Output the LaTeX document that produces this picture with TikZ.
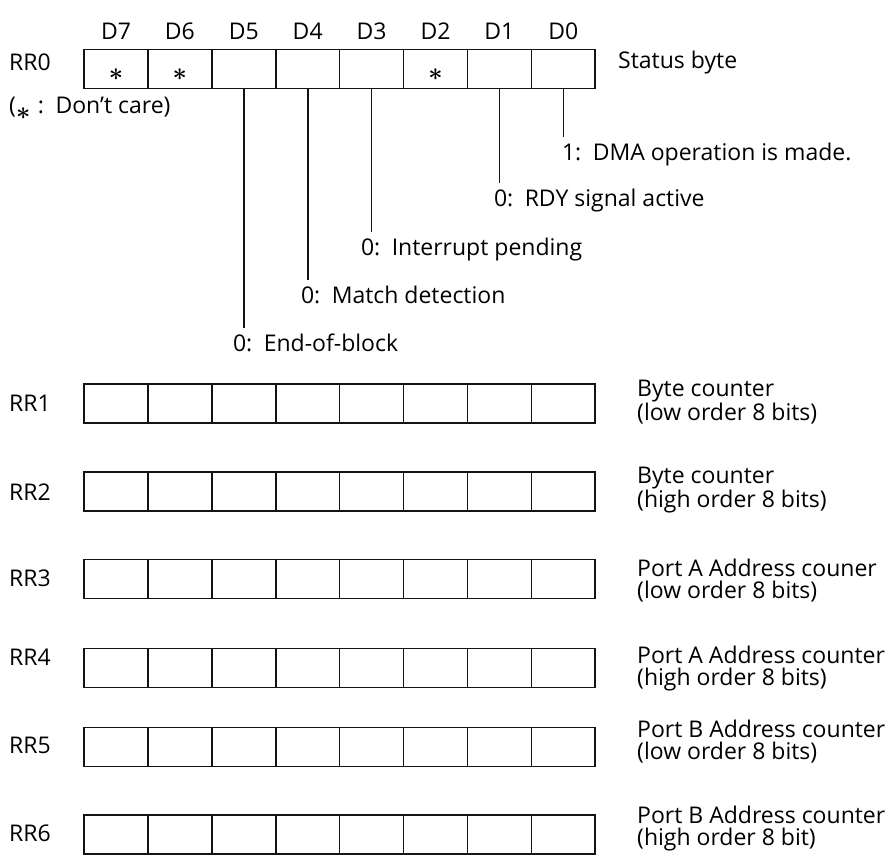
\documentclass[tikz,border=0pt]{standalone}
\usepackage{fontspec}
\setmainfont{Open Sans}
\usetikzlibrary{positioning}
\definecolor{inkblack}{RGB}{20,20,20}

\begin{document}
\begin{tikzpicture}[x=1pt, y=-1pt,
  cell/.style={rectangle, draw=inkblack, minimum width=63.9pt, minimum height=39pt, inner sep=0pt, outer sep=0pt, line width=1.6pt},
  bitname/.style={inner sep=0pt, font=\fontsize{23}{22}\selectfont},
  reg/.style={anchor=west, inner sep=0pt, font=\fontsize{23}{22}\selectfont},
  txt/.style={anchor=west, inner sep=0pt, align=left, font=\fontsize{23}{22}\selectfont},
  note/.style={anchor=north west, inner sep=0pt, outer sep=6pt, font=\fontsize{23}{22}\selectfont},
  dontcare/.style={inner sep=0pt, font=\fontsize{30}{30}\selectfont\boldmath},
  lead/.style={draw=inkblack, line width=1.6pt}
]
\useasboundingbox (0,0) rectangle (889,861);

\foreach \r/\y in {0/69, 1/403.5, 2/491.5, 3/579, 4/668, 5/747, 6/834.5}
  \foreach \b in {0,...,7}
    \node[cell] (r\r-\b) at ({116+63.9*(7-\b)}, \y) {};

\foreach \b in {0,...,7}
  \node[bitname, above=10pt of r0-\b] (d\b) {D\b};
\foreach \b in {7,6,2}
  \node[dontcare] (s\b) at ([yshift=-6pt]r0-\b.center) {$\ast$};

\node[reg] (rr0) at (9,62) {RR0};
\node[reg] (rr1) at (9,403) {RR1};
\node[reg] (rr2) at (9,492) {RR2};
\node[reg] (rr3) at (9,578) {RR3};
\node[reg] (rr4) at (9,657) {RR4};
\node[reg] (rr5) at (9,745) {RR5};
\node[reg] (rr6) at (9,833) {RR6};

\node[reg] (dc) at (9,108) {(\raisebox{-6pt}{\fontsize{30}{30}\selectfont\boldmath$\ast$}\,\,:\enspace Don't care)};

\node[txt] (desc0) at (618,63) {Status byte};
\node[txt] (desc1) at (637,402) {Byte counter\\(low order 8 bits)};
\node[txt] (desc2) at (637,490) {Byte counter\\(high order 8 bits)};
\node[txt] (desc3) at (637,581) {Port A Address couner\\(low order 8 bits)};
\node[txt] (desc4) at (637,669) {Port A Address counter\\(high order 8 bits)};
\node[txt] (desc5) at (637,742) {Port B Address counter\\(low order 8 bits)};
\node[txt] (desc6) at (637,829) {Port B Address counter\\(high order 8 bit)};

\node[note] (n0) at (556,137) {1:\enspace DMA operation is made.};
\node[note] (n1) at (488,183) {0:\enspace RDY signal active};
\node[note] (n3) at (355,232) {0:\enspace Interrupt pending};
\node[note] (n4) at (295,280) {0:\enspace Match detection};
\node[note] (n5) at (227,328) {0:\enspace End-of-block};

\foreach \b in {0,1,3,4,5}
  \draw[lead] (r0-\b.south) -- (r0-\b.south |- n\b.north);
\end{tikzpicture}
\end{document}
